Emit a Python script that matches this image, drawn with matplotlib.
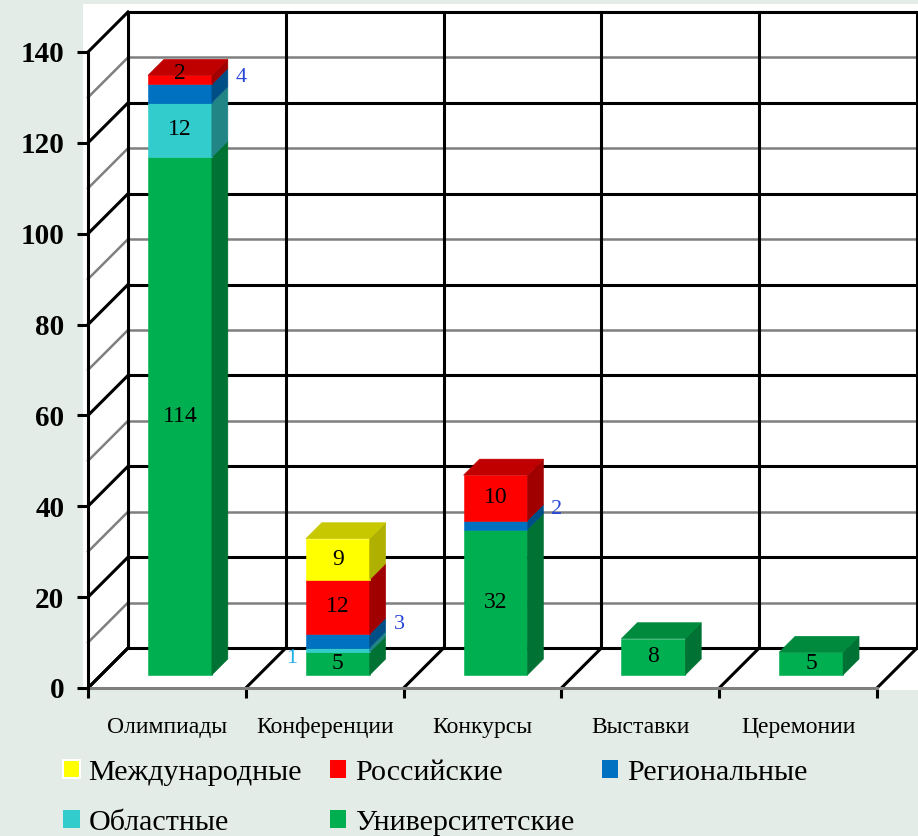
import matplotlib.pyplot as plt
import numpy as np
from matplotlib.patches import Polygon, Rectangle

plt.rcParams['font.family'] = ['Liberation Serif', 'DejaVu Serif']

categories = ['Олимпиады', 'Конференции', 'Конкурсы', 'Выставки', 'Церемонии']
series = ['Университетские', 'Областные', 'Региональные', 'Российские', 'Международные']
univ = [114, 5, 32, 8, 5]
oblast = [12, 1, 0, 0, 0]
region = [4, 3, 2, 0, 0]
russia = [2, 12, 10, 0, 0]
intl = [0, 9, 0, 0, 0]
y_ticks = [0, 20, 40, 60, 80, 100, 120, 140]

values = [univ, oblast, region, russia, intl]
# front, top, side shades for each series
shades = [('#00B050', '#008A3E', '#007233'),
          ('#33CCCC', '#2AAAAA', '#218585'),
          ('#0070C0', '#005A9C', '#004E86'),
          ('#FF0000', '#C00000', '#A00000'),
          ('#FFFF00', '#C8C800', '#B0B000')]
outside_color = {1: '#1EB0E8', 2: '#2846D8'}

W, H = 918, 836
fig = plt.figure(figsize=(W / 100, H / 100), dpi=100, facecolor='#E4ECE7')
fig.patches.append(Rectangle((83 / W, 1 - 690 / H), (W - 83) / W, (690 - 4) / H,
                             transform=fig.transFigure, facecolor='white',
                             edgecolor='none', zorder=-1))

ax = fig.add_axes([88 / W, 1 - 688 / H, 789 / W, 636 / H])
ax.set_facecolor('none')
ax.set_xlim(0, 5)
ax.set_ylim(0, 140)

# data units per display pixel, used for the 45 degree depth offset
o = ax.transData.transform((0, 0))
ux, uy = ax.transData.inverted().transform(o + 1)
DEPTH = 40
d1, d2 = 13, 29
bar_w = 0.405


def sh(x, v, d):
    return (x + d * ux, v + d * uy)


line_kw = dict(clip_on=False, solid_capstyle='projecting', zorder=1)
for v in range(0, 141, 10):
    major = v % 20 == 0
    c, lw = ('black', 2.2) if major else ('#7F7F7F', 1.8)
    ax.plot(*zip(sh(0, v, DEPTH), sh(5, v, DEPTH)), color=c, lw=lw, **line_kw)
    ax.plot(*zip(sh(0, v, 0), sh(0, v, DEPTH)), color=c, lw=lw, **line_kw)
for x in range(6):
    ax.plot(*zip(sh(x, 0, DEPTH), sh(x, 140, DEPTH)), color='black', lw=2.2, **line_kw)
    ax.plot(*zip(sh(x, 0, 0), sh(x, 0, DEPTH)), color='black', lw=2.2, **line_kw)

for i in range(len(categories)):
    x0, x1 = i + 0.5 - bar_w / 2, i + 0.5 + bar_w / 2
    top_s = max(s for s in range(len(series)) if values[s][i] > 0)
    base = 0
    for s in range(len(series)):
        val = values[s][i]
        if val == 0:
            continue
        t = base + val
        front, topc, side = shades[s]
        faces = [([sh(x0, base, d1), sh(x1, base, d1), sh(x1, t, d1), sh(x0, t, d1)], front),
                 ([sh(x1, base, d1), sh(x1, base, d2), sh(x1, t, d2), sh(x1, t, d1)], side)]
        if s == top_s:
            faces.append(([sh(x0, t, d1), sh(x1, t, d1), sh(x1, t, d2), sh(x0, t, d2)], topc))
        for pts, c in faces:
            ax.add_patch(Polygon(pts, closed=True, facecolor=c, edgecolor=c,
                                 lw=0.4, clip_on=False, zorder=3))
        mid = (base + t) / 2
        if s in outside_color and val < 5:
            if s == 1:
                px, py = sh(x0, mid, 5)
                ax.text(px - 1 * ux, py, str(val), color=outside_color[s],
                        fontsize=16, ha='right', va='center', zorder=4)
            else:
                px, py = sh(x1, mid, d2)
                ax.text(px + 8 * ux, py, str(val), color=outside_color[s],
                        fontsize=16, ha='left', va='center', zorder=4)
        else:
            px, py = sh(i + 0.5, mid, d1)
            if val < 3:
                py = sh(i + 0.5, t, d1 + 2)[1]
            ax.text(px, py, str(val), color='black', fontsize=17,
                    ha='center', va='center', zorder=4)
        base = t

for side in ['top', 'right']:
    ax.spines[side].set_visible(False)
ax.spines['left'].set_linewidth(2.2)
ax.spines['bottom'].set_color('#7F7F7F')
ax.spines['bottom'].set_linewidth(2.2)
ax.spines['bottom'].set_zorder(2)

ax.set_yticks(y_ticks)
ax.set_yticklabels([str(v) for v in y_ticks], fontsize=21, fontweight='bold')
ax.tick_params(axis='y', length=8, width=2.2, pad=9)
ax.set_xticks(range(6))
ax.set_xticklabels([''] * 6)
ax.tick_params(axis='x', which='major', length=7, width=2.2, color='black')
ax.set_xticks(np.arange(5) + 0.5, minor=True)
ax.set_xticklabels(categories, minor=True, fontsize=17)
ax.tick_params(axis='x', which='minor', length=0, pad=21)

handles = [Rectangle((0, 0), 1, 1, facecolor=shades[s][0],
                     edgecolor='white' if s == 4 else 'none', lw=1.5)
           for s in range(len(series))]
# row-major order across three columns
order = [4, 1, 3, 0, 2]
fig.legend([handles[s] for s in order], [series[s] for s in order],
           ncol=3, loc='upper left', bbox_to_anchor=(63 / W, 1 - 760 / H),
           frameon=False, fontsize=21.6, handlelength=0.55, handleheight=0.55,
           handletextpad=0.3, columnspacing=0.92, labelspacing=0.8,
           borderaxespad=0, borderpad=0)

fig.savefig('out.png', dpi=100, facecolor=fig.get_facecolor())
